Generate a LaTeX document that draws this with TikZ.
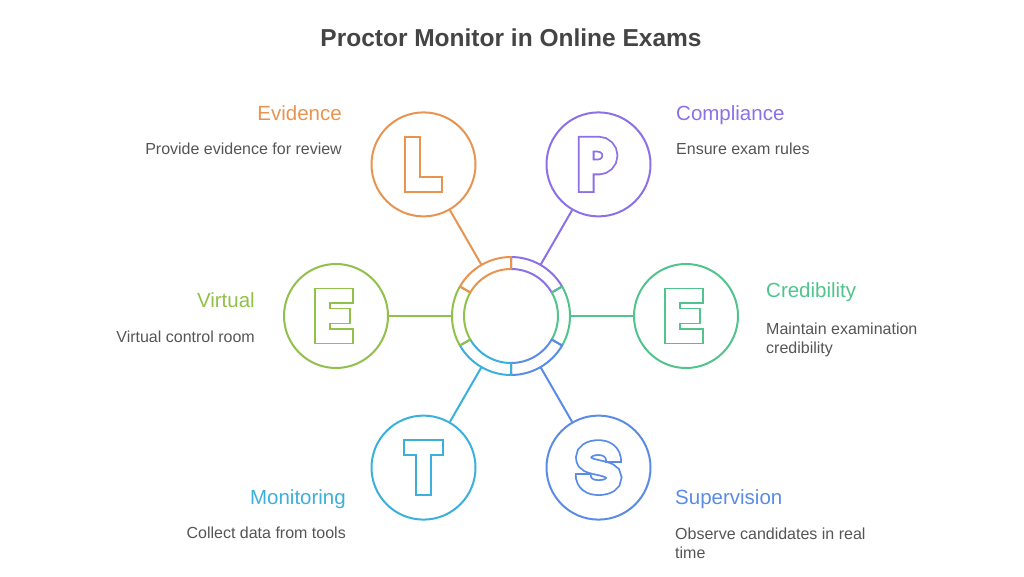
\documentclass[tikz,border=0pt]{standalone}
\usepackage{fontspec}
\setmainfont{Liberation Sans}
\usetikzlibrary{calc}
\definecolor{cOrange}{RGB}{232,148,80}
\definecolor{cPurple}{RGB}{139,112,230}
\definecolor{cGreen}{RGB}{80,196,140}
\definecolor{cBlue}{RGB}{90,140,230}
\definecolor{cCyan}{RGB}{60,175,220}
\definecolor{cLime}{RGB}{145,192,75}
\definecolor{textGray}{RGB}{85,85,85}
\definecolor{titleGray}{RGB}{68,68,68}
\begin{document}
\begin{tikzpicture}[x=1pt,y=1pt,
  sat/.style={circle, draw=#1, line width=2pt, minimum size=104pt, inner sep=0pt},
  glyph/.style={draw=#1, double=white, double distance=13pt, line width=1.8pt, line cap=rect, line join=miter},
  lbl/.style={font=\fontsize{20.5}{24}\selectfont, text=#1, inner sep=0pt},
  desc/.style={font=\fontsize{16}{19.5}\selectfont, text=textGray, inner sep=0pt},
  link/.style={draw=#1, line width=2pt},
  seg/.style={draw=#1, line width=2pt, line join=round}]
\useasboundingbox (0,0) rectangle (1024,576);
\node[font=\bfseries\fontsize{24.5}{28}\selectfont, text=titleGray, anchor=base, inner sep=0pt] (title) at (511,529) {Proctor Monitor in Online Exams};
% hub
\node[circle, minimum size=118pt, inner sep=0pt] (hub) at (511,260) {};
\foreach \a/\c in {60/cPurple, 0/cGreen, -60/cBlue, -120/cCyan, 180/cLime, 120/cOrange}{
  \draw[seg=\c] ($(hub.center)+(\a-30:59pt)$) arc[start angle=\a-30, end angle=\a+30, radius=59pt]
    -- ($(hub.center)+(\a+30:47pt)$) arc[start angle=\a+30, end angle=\a-30, radius=47pt] -- cycle;
}
% satellites
\node[sat=cOrange] (evid) at (423.5,411.6) {};
\node[sat=cPurple] (comp) at (598.5,411.6) {};
\node[sat=cGreen] (cred) at (686,260) {};
\node[sat=cBlue] (superv) at (598.5,108.4) {};
\node[sat=cCyan] (monit) at (423.5,108.4) {};
\node[sat=cLime] (virt) at (336,260) {};
% outlined letters
\begin{scope}[shift={(evid.center)}]
  \draw[glyph=cOrange] (-11.2,20.2) -- (-11.2,-20.2) -- (11.2,-20.2);
\end{scope}
\begin{scope}[shift={(comp.center)}]
  \draw[glyph=cPurple] (-12.3,-20.2) -- (-12.3,20.2) -- (0,20.2) arc[start angle=90, end angle=-90, radius=11.4pt] -- (-12.3,-2.6);
\end{scope}
\begin{scope}[shift={(cred.center)}]
  \draw[glyph=cGreen] (9.3,20) -- (-13.3,20) -- (-13.3,-20) -- (9.3,-20) (-13.3,0) -- (6.8,0);
\end{scope}
\begin{scope}[shift={(virt.center)}]
  \draw[glyph=cLime] (9.3,20) -- (-13.3,20) -- (-13.3,-20) -- (9.3,-20) (-13.3,0) -- (6.8,0);
\end{scope}
\begin{scope}[shift={(monit.center)}]
  \draw[glyph=cCyan] (-12.3,20.2) -- (12.3,20.2) (0,20.2) -- (0,-20.2);
\end{scope}
\begin{scope}[shift={(superv.center)}]
  \draw[glyph=cBlue, line cap=butt] (15.2,5.6) .. controls (15.2,15.5) and (8.5,20) .. (0,20)
    .. controls (-9,20) and (-15,16) .. (-15,10)
    .. controls (-15,3) and (-8,1.8) .. (0,0)
    .. controls (8,-1.8) and (15.4,-3.5) .. (15.4,-10)
    .. controls (15.4,-16.5) and (9,-20) .. (0,-20)
    .. controls (-8.5,-20) and (-15.4,-16) .. (-15.4,-6.4);
  \draw[cBlue, line width=1.8pt] (6.9,5.6) -- (23.5,5.6);
  \draw[cBlue, line width=1.8pt] (-23.7,-6.4) -- (-7.1,-6.4);
\end{scope}
% connectors
\draw[link=cOrange] (hub.120) -- (evid);
\draw[link=cPurple] (hub.60) -- (comp);
\draw[link=cGreen] (hub.0) -- (cred);
\draw[link=cBlue] (hub.-60) -- (superv);
\draw[link=cCyan] (hub.-120) -- (monit);
\draw[link=cLime] (hub.180) -- (virt);
% labels
\node[lbl=cOrange, anchor=base east] (tEvid) at (342,455) {Evidence};
\node[desc, anchor=base east] (dEvid) at (342,421) {Provide evidence for review};
\node[lbl=cPurple, anchor=base west] (tComp) at (676,455) {Compliance};
\node[desc, anchor=base west] (dComp) at (676,421) {Ensure exam rules};
\node[lbl=cGreen, anchor=base west] (tCred) at (766,278) {Credibility};
\node[desc, anchor=base west] (dCred1) at (766,242) {Maintain examination};
\node[desc, anchor=base west] (dCred2) at (766,222.5) {credibility};
\node[lbl=cLime, anchor=base east] (tVirt) at (255,268) {Virtual};
\node[desc, anchor=base east] (dVirt) at (255,234) {Virtual control room};
\node[lbl=cCyan, anchor=base east] (tMonit) at (346,72) {Monitoring};
\node[desc, anchor=base east] (dMonit) at (346,38) {Collect data from tools};
\node[lbl=cBlue, anchor=base west] (tSup) at (675,72) {Supervision};
\node[desc, anchor=base west] (dSup1) at (675,37) {Observe candidates in real};
\node[desc, anchor=base west] (dSup2) at (675,17.5) {time};
\end{tikzpicture}
\end{document}
